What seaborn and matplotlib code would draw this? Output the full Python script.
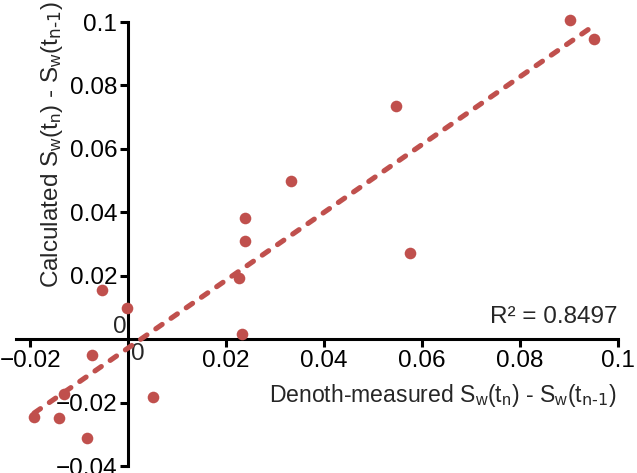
import matplotlib
matplotlib.use("Agg")
import matplotlib.pyplot as plt
import seaborn as sns
import pandas as pd
import numpy as np

# Denoth-measured vs calculated change in soil water content
measured = [0.0902, 0.0951, 0.0547, 0.0333, 0.0239, 0.0239, 0.0227, 0.0576,
            -0.0053, -0.0002, 0.0233, -0.0073, 0.0050, -0.0131, -0.0192,
            -0.0141, -0.0084]
calculated = [0.1006, 0.0947, 0.0734, 0.0500, 0.0381, 0.0309, 0.0194, 0.0272,
              0.0156, 0.0097, 0.0016, -0.0050, -0.0184, -0.0172, -0.0244,
              -0.0250, -0.0313]
x_ticks = [-0.02, 0.02, 0.04, 0.06, 0.08, 0.1]
x_ticklabels = ["\u22120.02", "0.02", "0.04", "0.06", "0.08", "0.1"]
y_ticks = [-0.04, -0.02, 0.02, 0.04, 0.06, 0.08, 0.1]
y_ticklabels = ["\u22120.04", "\u22120.02", "0.02", "0.04", "0.06", "0.08", "0.1"]
r2_text = "R\u00b2 = 0.8497"

df = pd.DataFrame({"measured": measured, "calculated": calculated})

sns.set_style("white")
plt.rcParams['font.family'] = ['Liberation Sans', 'DejaVu Sans']
plt.rcParams['mathtext.default'] = 'regular'

red = '#C0504D'
fs = 17.5

fig = plt.figure(figsize=(6.37, 4.73), dpi=100)
ax = fig.add_axes([16 / 637, 7 / 473, 602 / 637, 444 / 473])

sns.regplot(data=df, x="measured", y="calculated", ax=ax, ci=None, truncate=True,
            color=red,
            scatter_kws={'s': 70, 'alpha': 1, 'linewidths': 0, 'clip_on': False, 'zorder': 3},
            line_kws={'linewidth': 3.7, 'linestyle': (0, (1.5, 2.1)),
                      'dash_capstyle': 'round', 'zorder': 4})

ax.set_xlim(-0.0229, 0.1)
ax.set_ylim(-0.04, 0.1)

# axes cross at the origin
ax.spines['left'].set_position(('data', 0))
ax.spines['bottom'].set_position(('data', 0))
ax.spines['right'].set_visible(False)
ax.spines['top'].set_visible(False)
for side in ['left', 'bottom']:
    ax.spines[side].set_linewidth(2.2)
    ax.spines[side].set_color('black')
ax.spines['left'].set_bounds(-0.04, 0.1)
ax.spines['bottom'].set_bounds(-0.0229, 0.1)

ax.set_xticks(x_ticks)
ax.set_xticklabels(x_ticklabels)
ax.set_yticks(y_ticks)
ax.set_yticklabels(y_ticklabels)
ax.tick_params(axis='both', direction='out', length=6, width=2.2, color='black',
               labelsize=fs, labelcolor='black', pad=2)
ax.tick_params(axis='x', bottom=True)
ax.tick_params(axis='y', left=True)

# the "0" labels sit next to the origin
ax.annotate("0", xy=(0, 0), xytext=(-6, 1), textcoords='offset points',
            ha='center', va='bottom', fontsize=fs)
ax.annotate("0", xy=(0, 0), xytext=(7, -3), textcoords='offset points',
            ha='center', va='top', fontsize=fs)

sub = r"S$_{w}$(t$_{n}$) - S$_{w}$(t$_{\text{n-1}}$)"
ax.set_xlabel("Denoth-measured " + sub, fontsize=16.6)
ax.xaxis.set_label_coords(601 / 602, (466 - 395) / 444)
ax.xaxis.label.set_horizontalalignment('right')
ax.xaxis.label.set_verticalalignment('center')

ax.set_ylabel("Calculated " + sub, fontsize=fs)
ax.yaxis.set_label_coords((52 - 16) / 602, (466 - 145) / 444)
ax.yaxis.label.set_verticalalignment('center')

ax.text(0.1, 0.0035, r2_text, ha='right', va='bottom', fontsize=fs)

ax.grid(False)
fig.savefig("out.png", dpi=100)
